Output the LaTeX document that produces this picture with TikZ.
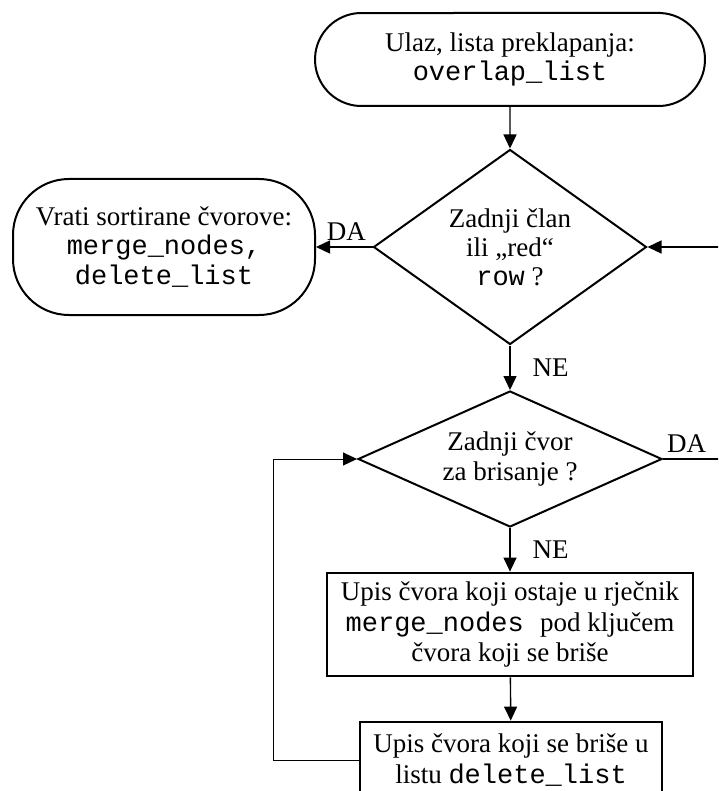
\documentclass[tikz,border=0pt]{standalone}
\usepackage{fontspec}
\setmainfont{Liberation Serif}
\setmonofont{Liberation Mono}
\usetikzlibrary{shapes.geometric,shapes.misc,arrows.meta}

\tikzset{
  base/.style={font=\fontsize{13.5}{14.6}\selectfont, align=center, inner sep=1pt},
  terminal/.style={base, draw, line width=1pt},
  decision/.style={base, draw, line width=1pt, diamond},
  process/.style={base, draw, line width=1.4pt, rectangle, font=\fontsize{13.5}{15.2}\selectfont},
  arr/.style={line width=0.7pt, -{Triangle[length=7pt,width=6.5pt]}},
  lbl/.style={font=\fontsize{13.5}{15}\selectfont, inner sep=3pt}
}

\begin{document}
\begin{tikzpicture}[x=0.5pt, y=-0.5pt]
    \clip (0,0) rectangle (718,791);

    % Start and end
    \node[terminal, rounded rectangle, rounded rectangle arc length=175, minimum width=197pt, minimum height=46.5pt]
      (start) at (510,59.5) {Ulaz, lista preklapanja:\\\texttt{overlap\_list}};
    \node[terminal, rectangle, rounded corners=28pt, minimum width=151pt, minimum height=68pt]
      (stop) at (164,247) {Vrati sortirane čvorove:\\\texttt{merge\_nodes,}\\\texttt{delete\_list}};

    % Decisions
    \node[decision, aspect=1.4, minimum width=136.5pt, minimum height=97.5pt]
      (last) at (510,247) {Zadnji član\\ili „red“\\\texttt{row} ?};
    \node[decision, aspect=2.235, minimum width=152pt, minimum height=68pt]
      (lastnode) at (510,459) {Zadnji čvor\\za brisanje ?};

    % Steps
    \node[process, minimum width=183pt, minimum height=51.5pt]
      (write) at (510,624.5) {Upis čvora koji ostaje u rječnik\\\texttt{merge\_nodes }pod ključem\\čvora koji se briše};
    \node[process, minimum width=151pt, minimum height=38pt]
      (append) at (511,760) {Upis čvora koji se briše u\\listu \texttt{delete\_list}};

    % Outside ends
    \coordinate (inright) at (722,247);
    \coordinate (outright) at (722,459);
    \coordinate (loop) at (273,760);

    % Connectors
    \draw[arr] (start) -- (last);
    \draw[arr] (last.west) -- node[lbl, pos=0, above left] {DA} (stop.east);
    \draw[arr] (inright) -- (last.east);
    \draw[arr] (last.south) -- node[lbl, midway, right=8pt] {NE} (lastnode.north);
    \draw[line width=0.7pt] (lastnode.east) -- node[lbl, pos=0.4, above] {DA} (outright);
    \draw[arr] (lastnode.south) -- node[lbl, midway, right=8pt] {NE} (write.north);
    \draw[arr] (write) -- (append);
    \draw[arr, line width=0.5pt] (append.west) -- (loop) |- (lastnode.west);
\end{tikzpicture}
\end{document}
